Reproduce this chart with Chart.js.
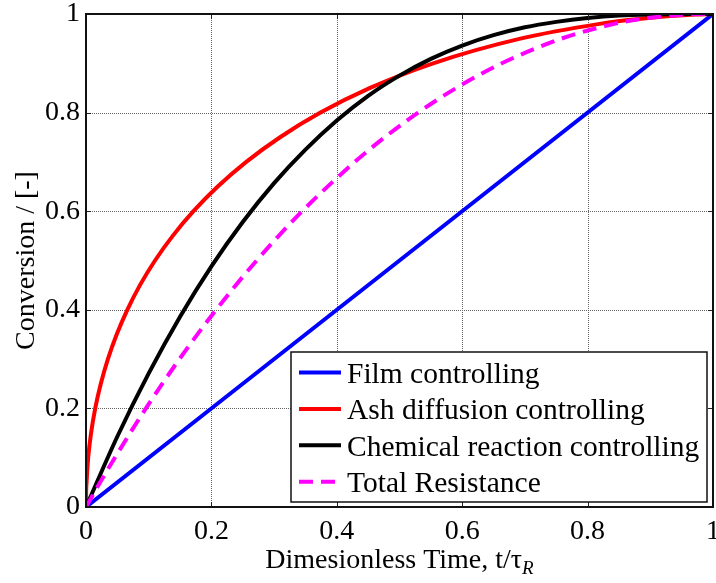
<!DOCTYPE html>
<html>
<head>
<meta charset="utf-8">
<script src="https://cdn.jsdelivr.net/npm/chart.js@4"></script>
<style>
  html, body { margin: 0; padding: 0; background: #fff; }
  #wrap { width: 716px; height: 583px; }
</style>
</head>
<body>
<div id="wrap"><canvas id="c" width="716" height="583"></canvas></div>
<script>
// Shrinking-core conversion curves: conversion X versus dimensionless time t/tau
const seriesLabels = ['Film controlling', 'Ash diffusion controlling', 'Chemical reaction controlling', 'Total Resistance'];
const seriesColors = ['#0000ff', '#ff0000', '#000000', '#ff00ff'];

const filmTime = [0, 0.5, 1];
const filmConv = [0, 0.5, 1];

const ashTime = [0, 0.0001, 0.0009, 0.0035, 0.0081, 0.0147, 0.0236, 0.0349, 0.0489, 0.0659, 0.0861, 0.1101, 0.1383, 0.1714, 0.2101, 0.2556, 0.3095, 0.374, 0.4531, 0.5537, 0.6928, 0.819, 0.8808, 0.972, 1];
const ashConv = [0, 0.02, 0.05, 0.1, 0.15, 0.2, 0.25, 0.3, 0.35, 0.4, 0.45, 0.5, 0.55, 0.6, 0.65, 0.7, 0.75, 0.8, 0.85, 0.9, 0.95, 0.98, 0.99, 0.999, 1];

const chemTime = [0, 0.05, 0.1, 0.15, 0.2, 0.25, 0.3, 0.35, 0.4, 0.45, 0.5, 0.55, 0.6, 0.65, 0.7, 0.75, 0.8, 0.85, 0.9, 1];
const chemConv = [0, 0.143, 0.271, 0.386, 0.488, 0.578, 0.657, 0.725, 0.784, 0.834, 0.875, 0.909, 0.936, 0.957, 0.973, 0.984, 0.992, 0.997, 0.999, 1];

const totalTime = [0, 0.0226, 0.046, 0.0955, 0.149, 0.2075, 0.2721, 0.3448, 0.4287, 0.4765, 0.5297, 0.5906, 0.6632, 0.7582, 0.8425, 0.8851, 0.957, 1];
const totalConv = [0, 0.05, 0.1, 0.2, 0.3, 0.4, 0.5, 0.6, 0.7, 0.75, 0.8, 0.85, 0.9, 0.95, 0.98, 0.99, 0.999, 1];

const tickValues = [0, 0.2, 0.4, 0.6, 0.8, 1];
const tickLabels = ['0', '0.2', '0.4', '0.6', '0.8', '1'];
const yTitle = 'Conversion / [-]';
const xTitleMain = 'Dimesionless Time, t/\u03C4';
const xTitleSub = 'R';

const FONT = '"Liberation Serif", "DejaVu Serif", serif';

function pts(xs, ys) { return xs.map((x, i) => ({ x: x, y: ys[i] })); }
function labelFor(v) {
  const i = tickValues.findIndex(t => Math.abs(t - v) < 1e-9);
  return i >= 0 ? tickLabels[i] : '';
}

// Dotted grid, inward ticks, box frame, axis title with subscript, and legend box
const decorations = {
  id: 'decorations',
  beforeDatasetsDraw(chart) {
    const { ctx, chartArea: a, scales: { x, y } } = chart;
    ctx.save();
    ctx.strokeStyle = '#666';
    ctx.lineWidth = 1;
    ctx.setLineDash([1, 1]);
    tickValues.forEach(v => {
      const px = Math.round(x.getPixelForValue(v)) + 0.5;
      ctx.beginPath(); ctx.moveTo(px, a.top); ctx.lineTo(px, a.bottom); ctx.stroke();
      const py = Math.round(y.getPixelForValue(v)) + 0.5;
      ctx.beginPath(); ctx.moveTo(a.left, py); ctx.lineTo(a.right, py); ctx.stroke();
    });
    ctx.restore();
  },
  afterDatasetsDraw(chart) {
    const { ctx, chartArea: a, scales: { x, y } } = chart;
    ctx.save();
    // inward tick marks on all four sides
    ctx.strokeStyle = '#222';
    ctx.lineWidth = 1;
    const tl = 5;
    tickValues.forEach(v => {
      const px = Math.round(x.getPixelForValue(v)) + 0.5;
      ctx.beginPath();
      ctx.moveTo(px, a.bottom); ctx.lineTo(px, a.bottom - tl);
      ctx.moveTo(px, a.top); ctx.lineTo(px, a.top + tl);
      ctx.stroke();
      const py = Math.round(y.getPixelForValue(v)) + 0.5;
      ctx.beginPath();
      ctx.moveTo(a.left, py); ctx.lineTo(a.left + tl, py);
      ctx.moveTo(a.right, py); ctx.lineTo(a.right - tl, py);
      ctx.stroke();
    });
    // frame
    ctx.lineWidth = 2;
    ctx.strokeStyle = '#111';
    ctx.strokeRect(a.left, a.top, a.right - a.left, a.bottom - a.top);

    // legend box
    const L = { left: 291, top: 352, right: 707, bottom: 502 };
    ctx.fillStyle = '#fff';
    ctx.fillRect(L.left, L.top, L.right - L.left, L.bottom - L.top);
    ctx.lineWidth = 1.5;
    ctx.strokeStyle = '#111';
    ctx.strokeRect(L.left, L.top, L.right - L.left, L.bottom - L.top);
    ctx.font = '29.5px ' + FONT;
    ctx.textAlign = 'left';
    ctx.textBaseline = 'alphabetic';
    chart.data.datasets.forEach((ds, i) => {
      const ry = 372.5 + i * 36.4;
      ctx.save();
      ctx.strokeStyle = ds.borderColor;
      ctx.lineWidth = 4;
      ctx.setLineDash(ds.borderDash || []);
      ctx.beginPath(); ctx.moveTo(299, ry); ctx.lineTo(341, ry); ctx.stroke();
      ctx.restore();
      ctx.fillStyle = '#000';
      ctx.fillText(ds.label, 347, ry + 10.5);
    });

    // x-axis title with subscript
    ctx.font = '28px ' + FONT;
    const wMain = ctx.measureText(xTitleMain).width;
    ctx.font = 'italic 19px ' + FONT;
    const wSub = ctx.measureText(xTitleSub).width;
    const cx = (a.left + a.right) / 2;
    const startX = cx - (wMain + wSub) / 2;
    ctx.fillStyle = '#000';
    ctx.font = '28px ' + FONT;
    ctx.fillText(xTitleMain, startX, 568);
    ctx.font = 'italic 19px ' + FONT;
    ctx.fillText(xTitleSub, startX + wMain, 574);
    ctx.restore();
  }
};

new Chart(document.getElementById('c'), {
  type: 'line',
  data: {
    datasets: [
      { label: seriesLabels[0], data: pts(filmTime, filmConv), borderColor: seriesColors[0], order: 3 },
      { label: seriesLabels[1], data: pts(ashTime, ashConv), borderColor: seriesColors[1], order: 2 },
      { label: seriesLabels[2], data: pts(chemTime, chemConv), borderColor: seriesColors[2], order: 1 },
      { label: seriesLabels[3], data: pts(totalTime, totalConv), borderColor: seriesColors[3], borderDash: [14, 8], order: 0 }
    ]
  },
  options: {
    responsive: false,
    animation: false,
    events: [],
    layout: { padding: { left: 0, right: 3, top: 14, bottom: 0 } },
    elements: {
      point: { radius: 0 },
      line: { borderWidth: 4, cubicInterpolationMode: 'monotone', fill: false, borderCapStyle: 'butt' }
    },
    plugins: { legend: { display: false }, tooltip: { enabled: false } },
    scales: {
      x: {
        type: 'linear', min: 0, max: 1,
        afterFit(s) { s.height = 76; s.paddingLeft = 0; s.paddingRight = 0; },
        afterBuildTicks(s) { s.ticks = tickValues.map(v => ({ value: v })); },
        grid: { display: false, drawTicks: false },
        border: { display: false },
        ticks: { color: '#000', padding: 8, maxRotation: 0, callback: v => labelFor(v), font: { family: FONT, size: 28 } }
      },
      y: {
        type: 'linear', min: 0, max: 1,
        afterFit(s) { s.width = 86; s.paddingTop = 0; s.paddingBottom = 0; },
        afterBuildTicks(s) { s.ticks = tickValues.map(v => ({ value: v })); },
        grid: { display: false, drawTicks: false },
        border: { display: false },
        ticks: { color: '#000', padding: 6, callback: v => labelFor(v), font: { family: FONT, size: 28 } },
        title: { display: true, text: yTitle, color: '#000', padding: { top: 10, bottom: 0 }, font: { family: FONT, size: 28 } }
      }
    }
  },
  plugins: [decorations]
});
</script>
</body>
</html>
